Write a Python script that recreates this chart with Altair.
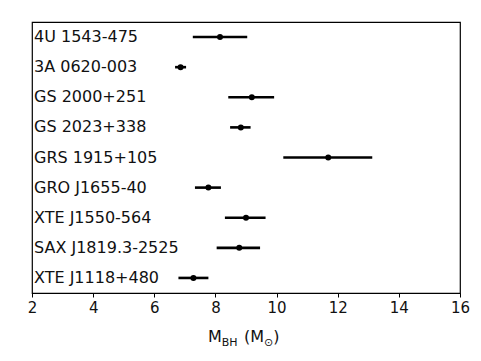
import altair as alt
import pandas as pd

names = ["4U 1543-475", "3A 0620-003", "GS 2000+251", "GS 2023+338", "GRS 1915+105",
         "GRO J1655-40", "XTE J1550-564", "SAX J1819.3-2525", "XTE J1118+480"]
mass = [8.15, 6.86, 9.19, 8.83, 11.69, 7.77, 9.00, 8.78, 7.28]
mass_lo = [7.26, 6.68, 8.42, 8.48, 10.22, 7.33, 8.31, 8.04, 6.79]
mass_hi = [9.04, 7.04, 9.92, 9.15, 13.13, 8.18, 9.64, 9.46, 7.77]
x_ticks = [2, 4, 6, 8, 10, 12, 14, 16]

df = pd.DataFrame({"name": names, "m": mass, "lo": mass_lo, "hi": mass_hi})

W, H = 428, 271
FONT = "DejaVu Sans"

yenc = alt.Y("name:N", sort=names, axis=None, scale=alt.Scale(type="point", padding=0.5))
xscale = alt.Scale(domain=[2, 16], nice=False, zero=False)
xaxis = alt.Axis(values=x_ticks, title=None, grid=False, tickSize=4, tickColor="black",
                 tickWidth=1, labelFontSize=15, labelFont=FONT, labelColor="#111",
                 labelPadding=3, domain=False, labelFlush=False)

base = alt.Chart(df)
rules = base.mark_rule(color="black", strokeWidth=2.6).encode(
    x=alt.X("lo:Q", scale=xscale, axis=xaxis), x2="hi:Q", y=yenc)
pts = base.mark_point(filled=True, color="black", size=36, opacity=1).encode(
    x=alt.X("m:Q", scale=xscale), y=yenc)
labels = base.mark_text(align="left", baseline="middle", fontSize=16, font=FONT,
                        color="#111").encode(x=alt.value(2), y=yenc, text="name:N")

def piece(txt, x, y, size):
    return alt.Chart(pd.DataFrame({"t": [txt]})).mark_text(
        align="left", baseline="alphabetic", fontSize=size, font=FONT, color="#111"
    ).encode(x=alt.value(x), y=alt.value(y), text="t:N")

ty = 320
sub = 3.5
title = (piece("M", 176, ty, 16) + piece("BH", 189.8, ty + sub, 11) +
         piece("(M", 212, ty, 16) + piece("\u2299", 232, ty + sub, 11) +
         piece(")", 241.2, ty, 16))

chart = alt.layer(rules, pts, labels, title).properties(
    width=W, height=H,
    autosize=alt.AutoSizeParams(type="none"),
    padding={"left": 24, "top": 14, "right": 13, "bottom": 60},
    background="white",
).configure_view(stroke="black", strokeWidth=1.2)

chart.save("out.html", embed_options={"renderer": "svg", "actions": False})
